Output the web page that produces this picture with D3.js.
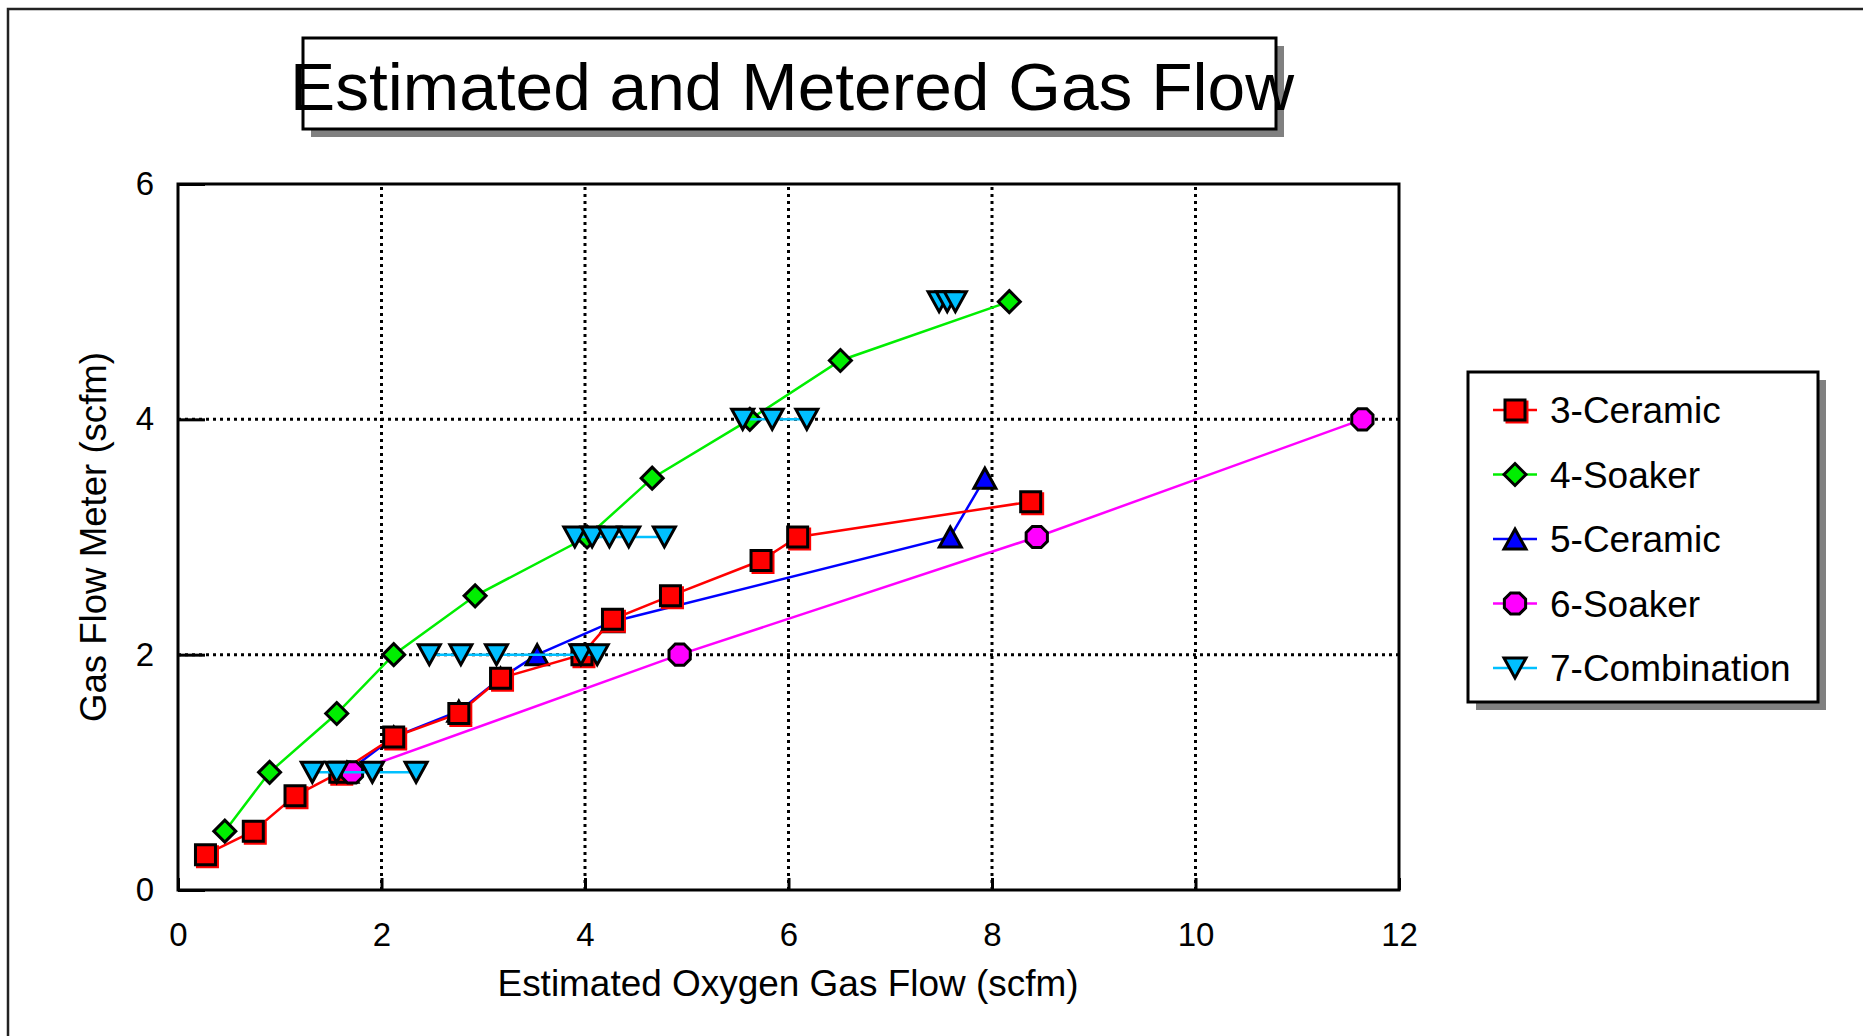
<!DOCTYPE html>
<html>
<head>
<meta charset="utf-8">
<script src="https://cdn.jsdelivr.net/npm/d3@7"></script>
<style>
  body { margin: 0; background: #fff; }
  text { font-family: "Liberation Sans", Arial, sans-serif; fill: #000; }
</style>
</head>
<body>
<script>
var w = 1863;
var h = 1036;

// data
var ceramic3X = [0.27, 0.74, 1.15, 1.59, 2.12, 2.76, 3.17, 3.97, 4.27, 4.84, 5.73, 6.09, 8.38];
var ceramic3Y = [0.3, 0.5, 0.8, 1.0, 1.3, 1.5, 1.8, 2.0, 2.3, 2.5, 2.8, 3.0, 3.3];

var soaker4X = [0.46, 0.9, 1.56, 2.12, 2.92, 4.02, 4.66, 5.62, 6.51, 8.17];
var soaker4Y = [0.5, 1.0, 1.5, 2.0, 2.5, 3.0, 3.5, 4.0, 4.5, 5.0];

var ceramic5X = [1.66, 2.12, 2.76, 3.17, 3.53, 4.27, 7.59, 7.93];
var ceramic5Y = [1.0, 1.3, 1.52, 1.8, 2.0, 2.28, 3.0, 3.5];

var soaker6X = [1.71, 4.93, 8.44, 11.64];
var soaker6Y = [1.0, 2.0, 3.0, 4.0];

var comboX = [1.32, 1.56, 1.91, 2.34, 2.47, 2.78, 3.13, 3.96, 4.12, 3.9, 4.07, 4.24, 4.43, 4.78, 5.55, 5.84, 6.18, 7.48, 7.56, 7.64];
var comboY = [1, 1, 1, 1, 2, 2, 2, 2, 2, 3, 3, 3, 3, 3, 4, 4, 4, 5, 5, 5];

var xTicks = [0, 2, 4, 6, 8, 10, 12];
var yTicks = [0, 2, 4, 6];
var xGrid = [2, 4, 6, 8, 10];
var yGrid = [2, 4];

var seriesNames = ["3-Ceramic", "4-Soaker", "5-Ceramic", "6-Soaker", "7-Combination"];

var svg = d3.select("body")
    .append("svg")
    .attr("width", w)
    .attr("height", h);

var x = d3.scaleLinear().domain([0, 12]).range([178, 1399]);
var y = d3.scaleLinear().domain([0, 6]).range([890, 184]);

// page frame
svg.append("path")
    .attr("d", "M8," + h + "V9H" + w)
    .attr("fill", "none")
    .attr("stroke", "#222")
    .attr("stroke-width", 2.5);

// title box
svg.append("rect").attr("x", 311).attr("y", 46).attr("width", 973).attr("height", 91).attr("fill", "#808080");
svg.append("rect").attr("x", 303).attr("y", 38).attr("width", 973).attr("height", 91)
    .attr("fill", "#fff").attr("stroke", "#000").attr("stroke-width", 3);
svg.append("text")
    .attr("x", 792).attr("y", 110)
    .attr("text-anchor", "middle")
    .attr("font-size", "67px")
    .attr("textLength", 1004)
    .attr("lengthAdjust", "spacingAndGlyphs")
    .text("Estimated and Metered Gas Flow");

// grid
svg.selectAll(".vgrid")
    .data(xGrid)
    .enter()
    .append("line")
    .attr("x1", function(d) { return x(d); })
    .attr("x2", function(d) { return x(d); })
    .attr("y1", y(0))
    .attr("y2", y(6))
    .attr("stroke", "#000")
    .attr("stroke-width", 3)
    .attr("stroke-dasharray", "3,4");

svg.selectAll(".hgrid")
    .data(yGrid)
    .enter()
    .append("line")
    .attr("x1", x(0))
    .attr("x2", x(12))
    .attr("y1", function(d) { return y(d); })
    .attr("y2", function(d) { return y(d); })
    .attr("stroke", "#000")
    .attr("stroke-width", 3)
    .attr("stroke-dasharray", "3,4");

// axes
var xAxis = svg.append("g")
    .attr("transform", "translate(0," + y(0) + ")")
    .call(d3.axisBottom(x).tickValues(xTicks).tickSize(-12).tickPadding(33).tickFormat(d3.format("d")));
var yAxis = svg.append("g")
    .attr("transform", "translate(" + x(0) + ",0)")
    .call(d3.axisLeft(y).tickValues(yTicks).tickSize(-27).tickPadding(24).tickFormat(d3.format("d")));

[xAxis, yAxis].forEach(function(g) {
    g.select(".domain").remove();
    g.selectAll(".tick line").attr("stroke", "#000").attr("stroke-width", 3);
    g.selectAll(".tick text")
        .attr("font-family", "Liberation Sans, Arial, sans-serif")
        .attr("font-size", "33px")
        .attr("fill", "#000");
});

svg.append("rect")
    .attr("x", x(0)).attr("y", y(6))
    .attr("width", x(12) - x(0)).attr("height", y(0) - y(6))
    .attr("fill", "none").attr("stroke", "#000").attr("stroke-width", 3);

// axis titles
svg.append("text")
    .attr("x", 788).attr("y", 996)
    .attr("text-anchor", "middle")
    .attr("font-size", "36px")
    .attr("textLength", 581)
    .attr("lengthAdjust", "spacingAndGlyphs")
    .text("Estimated Oxygen Gas Flow (scfm)");

svg.append("text")
    .attr("transform", "translate(106,537) rotate(-90)")
    .attr("text-anchor", "middle")
    .attr("font-size", "37px")
    .attr("textLength", 370)
    .attr("lengthAdjust", "spacingAndGlyphs")
    .text("Gas Flow Meter (scfm)");

// marker shapes
function octagon(r) {
    var pts = d3.range(8).map(function(i) {
        var a = Math.PI / 8 + i * Math.PI / 4;
        return [r * Math.cos(a), r * Math.sin(a)];
    });
    return "M" + pts.join("L") + "Z";
}
var shapes = {
    square: "M-10,-10H10V10H-10Z",
    diamond: "M0,-11L11,0L0,11L-11,0Z",
    up: "M0,-10L11,10L-11,10Z",
    down: "M-11,-10L11,-10L0,10Z",
    oct: octagon(11.5)
};

var series = [
    { name: "5-Ceramic", xs: ceramic5X, ys: ceramic5Y, color: "#0000ff", fill: "#0000ff", shape: "up", leg: 2 },
    { name: "3-Ceramic", xs: ceramic3X, ys: ceramic3Y, color: "#ff0000", fill: "#ff0000", shape: "square", leg: 0 },
    { name: "4-Soaker", xs: soaker4X, ys: soaker4Y, color: "#00ee00", fill: "#00ee00", shape: "diamond", leg: 1 },
    { name: "6-Soaker", xs: soaker6X, ys: soaker6Y, color: "#ff00ff", fill: "#ff00ff", shape: "oct", leg: 3 },
    { name: "7-Combination", xs: comboX, ys: comboY, color: "#00c0ff", fill: "#00bfff", shape: "down", leg: 4 }
];

var line = d3.line()
    .x(function(d) { return x(d[0]); })
    .y(function(d) { return y(d[1]); });

function drawMarker(g, shape, fill) {
    if (shape === "square") {
        g.append("path").attr("d", shapes.square).attr("transform", "translate(2,2)")
            .attr("fill", "#ff0000").attr("stroke", "#ff0000").attr("stroke-width", 3);
    }
    g.append("path")
        .attr("d", shapes[shape])
        .attr("fill", fill)
        .attr("stroke", "#000")
        .attr("stroke-width", 3)
        .attr("stroke-linejoin", "miter");
}

series.forEach(function(s) {
    var pts = s.xs.map(function(v, i) { return [v, s.ys[i]]; });
    var groups = s.shape === "down" ? Array.from(d3.group(pts, function(d) { return d[1]; }).values()) : [pts];
    groups.forEach(function(gp) {
        svg.append("path")
            .attr("d", line(gp))
            .attr("fill", "none")
            .attr("stroke", s.color)
            .attr("stroke-width", 2.5);
    });
    pts.forEach(function(p) {
        var g = svg.append("g").attr("transform", "translate(" + x(p[0]) + "," + y(p[1]) + ")");
        drawMarker(g, s.shape, s.fill);
    });
});

// legend
svg.append("rect").attr("x", 1476).attr("y", 380).attr("width", 350).attr("height", 330).attr("fill", "#808080");
svg.append("rect").attr("x", 1468).attr("y", 372).attr("width", 350).attr("height", 330)
    .attr("fill", "#fff").attr("stroke", "#000").attr("stroke-width", 3);

series.forEach(function(s) {
    var cy = 410 + s.leg * 64.5;
    svg.append("line")
        .attr("x1", 1493).attr("x2", 1537)
        .attr("y1", cy).attr("y2", cy)
        .attr("stroke", s.color).attr("stroke-width", 2.5);
    var g = svg.append("g").attr("transform", "translate(1515," + cy + ")");
    drawMarker(g, s.shape, s.fill);
    svg.append("text")
        .attr("x", 1550).attr("y", cy + 13)
        .attr("font-size", "37px")
        .text(s.name);
});
</script>
</body>
</html>
